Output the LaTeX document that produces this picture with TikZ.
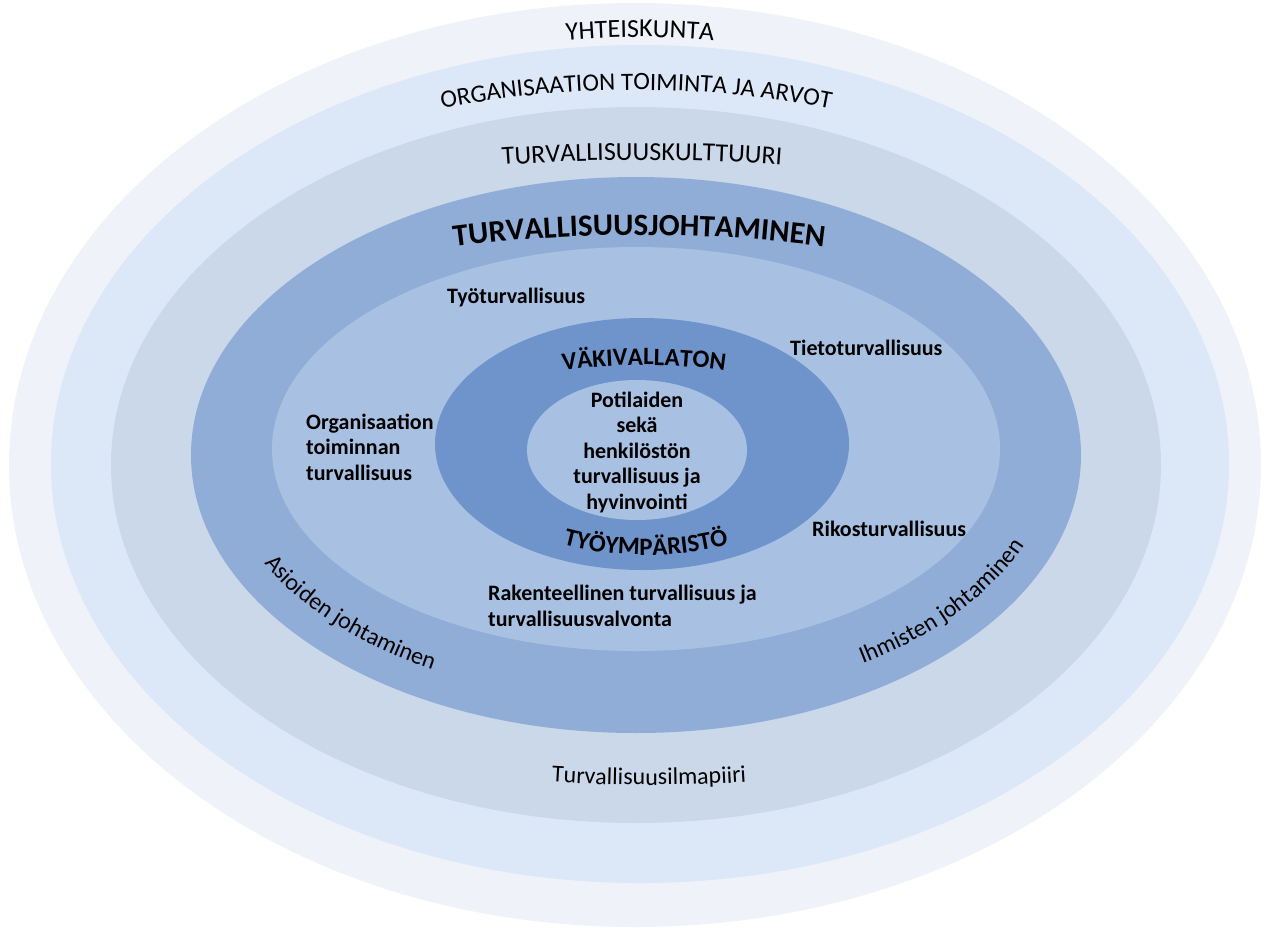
\documentclass[tikz,border=0pt]{standalone}
\usepackage{fontspec}
\setmainfont{Carlito}
\usetikzlibrary{decorations.text}

\definecolor{yhtband}{HTML}{EFF2F8}
\definecolor{orgband}{HTML}{DCE7F7}
\definecolor{kultband}{HTML}{CBD8EA}
\definecolor{johtband}{HTML}{8FADD6}
\definecolor{ymband}{HTML}{A8C1E2}
\definecolor{vakband}{HTML}{6F94CC}
\definecolor{coreband}{HTML}{A8C1E2}

\newcommand\fsz[1]{\fontsize{#1}{#1}\selectfont}

\tikzset{
  lbl/.style={font=\bfseries\fontsize{22}{25.5}\selectfont, inner sep=0pt},
  arctext/.style={decorate, decoration={text along path, text align=center, text={#1}}}
}

\begin{document}
\begin{tikzpicture}[x=1pt,y=1pt]
\useasboundingbox (0,0) rectangle (1264,-927);
% rings, outside in
\fill[yhtband] (635,-465) ellipse [x radius=626pt, y radius=462pt];
\fill[orgband] (640,-464) ellipse [x radius=589pt, y radius=419pt];
\fill[kultband] (636,-465) ellipse [x radius=525pt, y radius=358pt];
\fill[johtband] (636,-455) ellipse [x radius=445pt, y radius=278pt];
\fill[ymband] (636,-449) ellipse [x radius=364pt, y radius=202pt];
\fill[vakband] (642,-444) ellipse [x radius=207pt, y radius=126pt];
\fill[coreband] (637,-450) ellipse [x radius=110pt, y radius=70pt];

% curved titles
\path[arctext={|\fsz{26}|YHTEISKUNTA}] (640,-465) ++(110:600pt and 428pt)
  arc [start angle=110, end angle=70, x radius=600pt, y radius=428pt];
\path[arctext={|\fsz{25}|ORGANISAATION TOIMINTA JA ARVOT}] (636,-465) ++(125:620pt and 375pt)
  arc [start angle=125, end angle=55, x radius=620pt, y radius=375pt];
\path[arctext={|\fsz{26}|TURVALLISUUSKULTTUURI}] (642,-465) ++(115:776pt and 305pt)
  arc [start angle=115, end angle=65, x radius=776pt, y radius=305pt];
\path[arctext={|\bfseries\fsz{31}|TURVALLISUUSJOHTAMINEN}] (639,-455) ++(130:574pt and 220pt)
  arc [start angle=130, end angle=50, x radius=574pt, y radius=220pt];
\path[arctext={|\bfseries\fsz{25}|VÄKIVALLATON}] (644,-444) ++(150:215pt and 79pt)
  arc [start angle=150, end angle=30, x radius=215pt, y radius=79pt];
\path[arctext={|\bfseries\fsz{25}|TYÖYMPÄRISTÖ}] (646,-444) ++(210:194pt and 111pt)
  arc [start angle=210, end angle=330, x radius=194pt, y radius=111pt];
\path[arctext={|\fsz{24}|Turvallisuusilmapiiri}] (649,-465) ++(240:709pt and 320pt)
  arc [start angle=240, end angle=300, x radius=709pt, y radius=320pt];
\path[arctext={|\fsz{24}|Asioiden johtaminen}] (636,-452) ++(196:415pt and 250pt)
  arc [start angle=196, end angle=248, x radius=415pt, y radius=250pt];
\path[arctext={|\fsz{24}|Ihmisten johtaminen}] (636,-452) ++(296:418pt and 252pt)
  arc [start angle=296, end angle=348, x radius=418pt, y radius=252pt];

% labels
\node[lbl, anchor=base west] (tyo) at (447,-303) {Työturvallisuus};
\node[lbl, anchor=base west] (tieto) at (790,-355) {Tietoturvallisuus};
\node[lbl, anchor=base west] (rikos) at (812,-536) {Rikosturvallisuus};
\node[lbl, anchor=west, align=left] (org) at (306,-447) {Organisaation\\toiminnan\\turvallisuus};
\node[lbl, anchor=west, align=left] (rak) at (488,-606) {Rakenteellinen turvallisuus ja\\turvallisuusvalvonta};
\node[lbl, align=center] (core) at (637,-452) {Potilaiden\\sekä\\henkilöstön\\turvallisuus ja\\hyvinvointi};
\end{tikzpicture}
\end{document}
